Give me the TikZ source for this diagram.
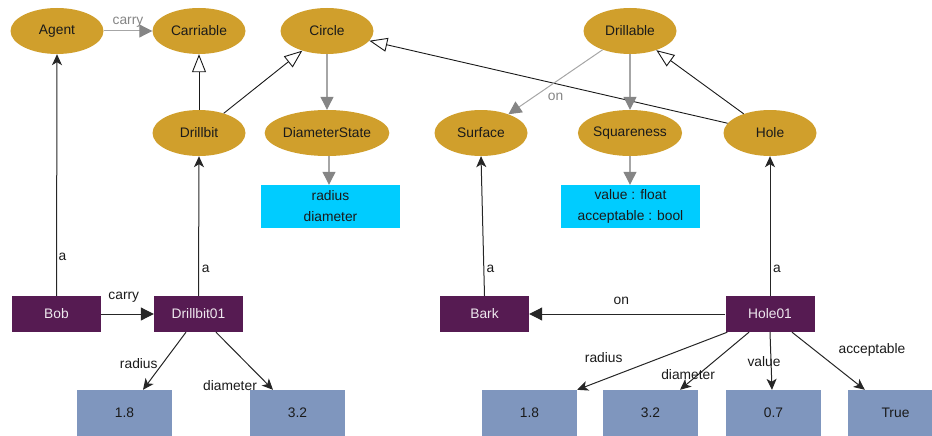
\documentclass[tikz,border=0pt]{standalone}
\usepackage{fontspec}
\setmainfont{Liberation Sans}
\usetikzlibrary{shapes.geometric,arrows.meta}
\definecolor{gold}{HTML}{D09F2C}
\definecolor{plum}{HTML}{561B52}
\definecolor{cyanbox}{HTML}{00CCFF}
\definecolor{valbox}{HTML}{7F96BE}
\definecolor{edgegray}{HTML}{A6A6A6}
\definecolor{tipgray}{HTML}{858585}
\definecolor{ink}{HTML}{1A1A1A}
\begin{document}
\begin{tikzpicture}[x=1pt,y=-1pt, font=\fontsize{13.8}{16}\selectfont,
 cls/.style={ellipse, fill=gold, minimum width=93pt, minimum height=46pt, inner sep=0pt, text=ink},
 inst/.style={rectangle, fill=plum, minimum width=89pt, minimum height=36pt, inner sep=0pt, text=white!90!plum},
 val/.style={rectangle, fill=valbox, minimum width=95pt, minimum height=46pt, inner sep=0pt, text=ink},
 attr/.style={rectangle, fill=cyanbox, minimum width=139pt, minimum height=43pt, inner sep=0pt, text=ink, align=center, font=\fontsize{13.8}{21}\selectfont},
 rel/.style={draw=black!85, line width=1pt, -{Stealth[length=11pt,width=10pt,inset=3pt]}},
 bigrel/.style={draw=black!85, line width=1pt, -{Triangle[length=13pt,width=13pt]}},
 sub/.style={draw=black!90, line width=0.9pt, -{Triangle[open,length=18pt,width=14pt]}},
 prop/.style={draw=edgegray, line width=1.2pt, -{Triangle[length=13pt,width=13pt,color=tipgray]}},
 lbl/.style={inner sep=0pt, text=ink},
 glbl/.style={inner sep=0pt, text=tipgray}]
\clip (0,0) rectangle (932,436);
% classes
\node[cls] (agent) at (57,31) {Agent};
\node[cls] (carriable) at (199,31) {Carriable};
\node[cls] (circle) at (327,31) {Circle};
\node[cls] (drillable) at (630,31) {Drillable};
\node[cls] (drillbit) at (199,133) {Drillbit};
\node[cls] (diamstate) at (327,133) {DiameterState};
\node[cls] (surface) at (481,133) {Surface};
\node[cls] (squareness) at (630,133) {Squareness};
\node[cls] (hole) at (770,133) {Hole};
% attribute boxes
\node[attr] (circattr) at (330.5,206.5) {radius\\diameter};
\node[attr] (sqattr) at (630.5,206.5) {value : float\\acceptable : bool};
% instances
\node[inst] (bob) at (56.5,314) {Bob};
\node[inst] (dbi) at (198.5,314) {Drillbit01};
\node[inst] (bark) at (484.5,314) {Bark};
\node[inst] (hole01) at (770,314) {Hole01};
% values
\node[val] (dr) at (124.5,413) {1.8};
\node[val] (dd) at (297.5,413) {3.2};
\node[val] (hr) at (529.5,413) {1.8};
\node[val] (hd) at (650.5,413) {3.2};
\node[val] (hv) at (773.5,413) {0.7};
\node[val] (ha) at (895.5,413) {True};
% class-level edges
\draw[prop, line width=1pt] (agent) -- node[glbl, pos=.5, yshift=9pt]{carry} (carriable);
\draw[sub] (drillbit) -- (carriable);
\draw[sub] (drillbit) -- (circle);
\draw[sub] (hole) -- (circle);
\draw[sub] (hole) -- (drillable);
\draw[prop] (circle) -- (diamstate);
\draw[prop] (drillable) -- (squareness);
\draw[prop, line width=1pt] (drillable) -- node[glbl, pos=.5, yshift=-14.5pt]{on} (surface);
\draw[prop] ([xshift=2pt]diamstate.south) -- ([xshift=2pt]diamstate.south |- circattr.north);
\draw[prop] (squareness.south) -- (squareness.south |- sqattr.north);
% instance edges
\draw[rel] (bob.north) -- node[lbl, pos=.16, xshift=6pt]{a} (agent.south);
\draw[rel] (dbi.north) -- node[lbl, pos=.19, xshift=7pt]{a} (drillbit.south);
\draw[rel] (bark.north) -- node[lbl, pos=.19, xshift=6.5pt]{a} (surface.south);
\draw[rel] (hole01.north) -- node[lbl, pos=.19, xshift=7pt]{a} (hole.south);
\draw[bigrel] (bob.east) -- node[lbl, pos=.43, yshift=16.5pt]{carry} (dbi.west);
\draw[bigrel] (hole01.west) -- node[lbl, pos=.53, yshift=13pt]{on} (bark.east);
% value edges
\draw[rel] ([xshift=-12.5pt]dbi.south) -- node[lbl, pos=.54, xshift=-24pt]{radius} ([xshift=18.5pt]dr.north);
\draw[rel] ([xshift=17.5pt]dbi.south) -- node[lbl, pos=.93, xshift=-39pt]{diameter} ([xshift=-24.5pt]dd.north);
\draw[rel] ([xshift=2pt]hole01.south west) -- node[lbl, pos=.5, xshift=-48.5pt, yshift=3pt]{radius} (hr.north east);
\draw[rel] ([xshift=-21pt]hole01.south) -- node[lbl, pos=.737, xshift=-10pt]{diameter} ([xshift=29.5pt]hd.north);
\draw[rel] (hole01.south) -- node[lbl, pos=.51, xshift=-7pt]{value} ([xshift=-1.5pt]hv.north);
\draw[rel] ([xshift=22pt]hole01.south) -- node[lbl, pos=.316, xshift=57pt]{acceptable} ([xshift=17pt]ha.north west);
\end{tikzpicture}
\end{document}
